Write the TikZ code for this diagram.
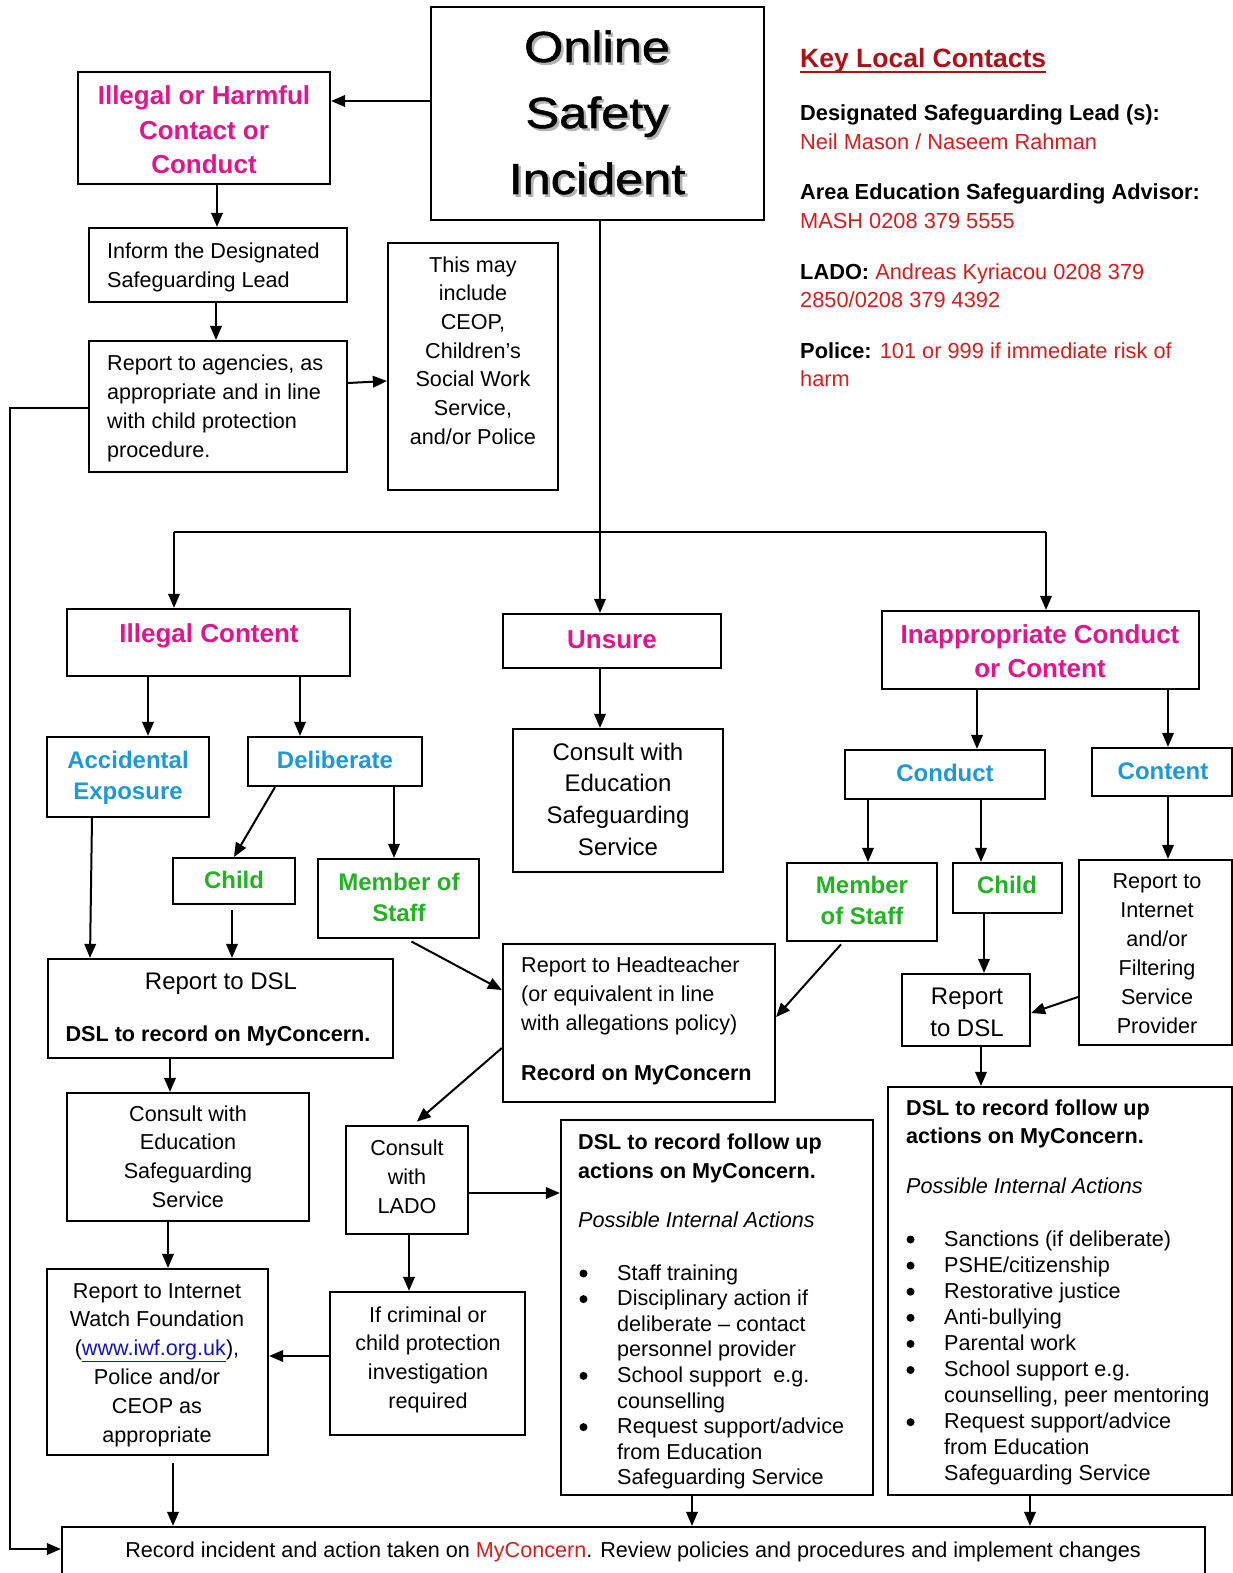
\documentclass[tikz,border=0pt]{standalone}
\usepackage{fontspec}
\setmainfont{Liberation Sans}
\newfontfamily\titlefont{Liberation Sans}[FakeStretch=1.16,FakeBold=1.2]
\usetikzlibrary{arrows.meta,fit}
\definecolor{pinkc}{RGB}{226,22,140}
\definecolor{bluec}{RGB}{30,152,218}
\definecolor{greenc}{RGB}{36,178,36}
\definecolor{redc}{RGB}{214,30,30}
\definecolor{headred}{RGB}{172,18,22}
\definecolor{linkc}{RGB}{20,20,190}
\newcommand\fs[2]{\fontsize{#1}{#2}\selectfont}
\newcommand\ML[2]{\begin{tabular}[t]{@{}#1@{}}#2\end{tabular}}
\newcommand\bul{\hspace*{39pt}}
\begin{document}
\begin{tikzpicture}[x=1pt,y=-1pt,
  bx/.style={draw, line width=2.2pt, inner sep=0pt},
  ar/.style={line width=2pt, -{Triangle[length=14pt,width=11.5pt]}},
  ln/.style={line width=2pt},
  dot/.style={fill=black},
  txc/.style={inner sep=0pt, anchor=base, font=\fs{21.6}{29}},
  txl/.style={inner sep=0pt, anchor=base west, font=\fs{21.6}{29}},
  hdp/.style={inner sep=0pt, anchor=base, font=\bfseries\fs{26}{34.5}, text=pinkc},
  subb/.style={inner sep=0pt, anchor=base, font=\bfseries\fs{24}{31.5}, text=bluec},
  subg/.style={inner sep=0pt, anchor=base, font=\bfseries\fs{24}{31}, text=greenc},
  kc/.style={inner sep=0pt, anchor=base west, font=\fs{21.8}{28.7}},
]
\fill[white] (0,0) rectangle (1233,1573);
\useasboundingbox (0,0) rectangle (1233,1573);

% ---------- boxes ----------
\node[bx, fit={(431,7) (764,220)}] (title) {};
\node[bx, fit={(78,72) (330,184)}] (ihc) {};
\node[bx, fit={(89,228) (347,302)}] (inform) {};
\node[bx, fit={(89,341) (347,472)}] (agen) {};
\node[bx, fit={(388,243) (558,490)}] (maybe) {};
\node[bx, fit={(67,609) (350,676)}] (illc) {};
\node[bx, fit={(503,614) (721,668)}] (unsure) {};
\node[bx, fit={(882,611) (1199,689)}] (inap) {};
\node[bx, fit={(47,737) (209,817)}] (acc) {};
\node[bx, fit={(248,737) (422,786)}] (delib) {};
\node[bx, fit={(173,858) (295,904)}] (childL) {};
\node[bx, fit={(318,859) (479,938)}] (mosL) {};
\node[bx, fit={(513,729) (723,872)}] (consM) {};
\node[bx, fit={(845,750) (1045,799)}] (cond) {};
\node[bx, fit={(1092,748) (1232,796)}] (cont) {};
\node[bx, fit={(787,863) (937,941)}] (mosR) {};
\node[bx, fit={(953,863) (1062,913)}] (childR) {};
\node[bx, fit={(1079,860) (1232,1045)}] (filt) {};
\node[bx, fit={(902,974) (1030,1046)}] (rdslR) {};
\node[bx, fit={(48,959) (393,1058)}] (rdslL) {};
\node[bx, fit={(503,944) (775,1102)}] (head) {};
\node[bx, fit={(67,1093) (309,1221)}] (consL) {};
\node[bx, fit={(47,1269) (268,1455)}] (iwf) {};
\node[bx, fit={(346,1126) (468,1234)}] (lado) {};
\node[bx, fit={(330,1292) (525,1435)}] (crim) {};
\node[bx, fit={(561,1120) (873,1495)}] (dslM) {};
\node[bx, fit={(888,1087) (1232,1495)}] (dslR) {};
\node[bx, fit={(62,1527) (1205,1620)}] (bottom) {};

% ---------- title ----------
\node[inner sep=0pt, anchor=base, font=\titlefont\fs{43.5}{66}, text=black!30] (titlesh) at (599.5,64.5) {\ML{c}{Online\\Safety\\Incident}};
\node[inner sep=0pt, anchor=base, font=\titlefont\fs{43.5}{66}] (titletx) at (597,62) {\ML{c}{Online\\Safety\\Incident}};

% ---------- texts ----------
\node[hdp] (ihct) at (204,105) {\ML{c}{Illegal or Harmful\\Contact or\\Conduct}};
\node[txl] (informt) at (107,258) {\ML{l}{Inform the Designated\\Safeguarding Lead}};
\node[txl] (agent) at (107,370) {\ML{l}{Report to agencies, as\\appropriate and in line\\with child protection\\procedure.}};
\node[txc, font=\fs{21.6}{28.7}] (maybet) at (473,272) {\ML{c}{This may\\include\\CEOP,\\Children’s\\Social Work\\Service,\\and/or Police}};

\node[inner sep=0pt, anchor=base west, font=\bfseries\fs{26.5}{30}, text=headred] (kh) at (800,68) {Key Local Contacts};
\draw[headred, line width=2pt] ([yshift=-4pt]kh.base west) -- ([yshift=-4pt]kh.base east);
\node[kc] (k1) at (800,121) {\ML{l}{\textbf{Designated Safeguarding Lead (s):}\\\textcolor{redc}{Neil Mason / Naseem Rahman}}};
\node[kc] (k2) at (800,200) {\ML{l}{\textbf{Area Education Safeguarding Advisor:}\\\textcolor{redc}{MASH 0208 379 5555}}};
\node[kc] (k3) at (800,279) {\ML{l}{\textbf{LADO:} \textcolor{redc}{Andreas Kyriacou 0208 379}\\\textcolor{redc}{2850/0208 379 4392}}};
\node[kc] (k4) at (800,358) {\ML{l}{\textbf{Police:} \textcolor{redc}{101 or 999 if immediate risk of}\\\textcolor{redc}{harm}}};

\node[hdp] (illct) at (209,642) {Illegal Content};
\node[hdp] (unsuret) at (612,648) {Unsure};
\node[hdp, font=\bfseries\fs{26}{34}] (inapt) at (1040,643) {\ML{c}{Inappropriate Conduct\\or Content}};

\node[subb] (acct) at (128,768) {\ML{c}{Accidental\\Exposure}};
\node[subb] (delibt) at (335,768) {Deliberate};
\node[subg] (childLt) at (234,888) {Child};
\node[subg] (mosLt) at (399,890) {\ML{c}{Member of\\Staff}};
\node[txc, font=\fs{24}{31.7}] (consMt) at (618,760) {\ML{c}{Consult with\\Education\\Safeguarding\\Service}};
\node[subb] (condt) at (945,781) {Conduct};
\node[subb] (contt) at (1163,779) {Content};
\node[subg] (mosRt) at (862,893) {\ML{c}{Member\\of Staff}};
\node[subg] (childRt) at (1007,893) {Child};
\node[txc, font=\fs{24}{32}] (rdslRt) at (967,1004) {\ML{c}{Report\\to DSL}};
\node[txc] (filtt) at (1157,888) {\ML{c}{Report to\\Internet\\and/or\\Filtering\\Service\\Provider}};

\node[txc, font=\fs{24}{30}] (rdslLa) at (221,989) {Report to DSL};
\node[txc, font=\bfseries\fs{21.6}{29}] (rdslLb) at (218,1041) {DSL to record on MyConcern.};
\node[txl] (headt) at (521,972) {\ML{l}{Report to Headteacher\\(or equivalent in line\\with allegations policy)}};
\node[txl, font=\bfseries\fs{21.6}{29}] (headb) at (521,1080) {Record on MyConcern};

\node[txc, font=\fs{21.6}{28.8}] (consLt) at (188,1121) {\ML{c}{Consult with\\Education\\Safeguarding\\Service}};
\node[txc, font=\fs{21.6}{28.8}] (iwft) at (157,1298) {\ML{c}{Report to Internet\\Watch Foundation\\(\textcolor{linkc}{\underline{www.iwf.org.uk}}),\\Police and/or\\CEOP as\\appropriate}};
\node[txc] (ladot) at (407,1155) {\ML{c}{Consult\\with\\LADO}};
\node[txc, font=\fs{21.6}{28.7}] (crimt) at (428,1322) {\ML{c}{If criminal or\\child protection\\investigation\\required}};

% middle follow-up box
\node[txl, font=\bfseries\fs{21.6}{29}] (dslMh) at (578,1149) {\ML{l}{DSL to record follow up\\actions on MyConcern.}};
\node[txl, font=\itshape\fs{21.6}{29}] (dslMi) at (578,1227) {Possible Internal Actions};
\begin{scope}
\clip (561,1120) rectangle (873,1488);
\node[txl, font=\fs{21.6}{25.6}] (dslMl) at (578,1280) {\ML{l@{}l}{\bul & Staff training\\
\bul & Disciplinary action if\\
 & deliberate – contact\\
 & personnel provider\\
\bul & School support\ \ e.g.\\
 & counselling\\
\bul & Request support/advice\\
 & from Education\\
 & Safeguarding Service}};
\end{scope}
\foreach \k in {0,1,4,6} \fill[dot] (583.5,1273.5+25.6*\k) circle (4pt);

% right follow-up box
\node[txl, font=\bfseries\fs{21.6}{28.5}] (dslRh) at (906,1115) {\ML{l}{DSL to record follow up\\actions on MyConcern.}};
\node[txl, font=\itshape\fs{21.6}{29}] (dslRi) at (906,1193) {Possible Internal Actions};
\node[txl, font=\fs{21.6}{26.1}] (dslRl) at (905,1246) {\ML{l@{}l}{\bul & Sanctions (if deliberate)\\
\bul & PSHE/citizenship\\
\bul & Restorative justice\\
\bul & Anti-bullying\\
\bul & Parental work\\
\bul & School support e.g.\\
 & counselling, peer mentoring\\
\bul & Request support/advice\\
 & from Education\\
 & Safeguarding Service}};
\foreach \k in {0,1,2,3,4,5,7} \fill[dot] (910.5,1239.5+26.1*\k) circle (4pt);

\node[txc] (bottomt) at (633,1557) {Record incident and action taken on \textcolor{redc}{MyConcern}. Review policies and procedures and implement changes};

% ---------- junction coordinates ----------
\coordinate (js) at (600,532);
\coordinate (jl) at (174,532);
\coordinate (jr) at (1046,532);
\coordinate (lc1) at (10,408);
\coordinate (lc2) at (10,1549);

% ---------- connectors ----------
\draw[ar] (title.west |- 0,101) -- (ihc.east |- 0,101);
\draw[ar] (217,0 |- ihc.south) -- (217,0 |- inform.north);
\draw[ar] (216,0 |- inform.south) -- (216,0 |- agen.north);
\draw[ar] (agen.east |- 0,383) -- (maybe.west |- 0,381);
\draw[ar] (agen.west |- 0,408) -- (lc1) -- (lc2) -- (bottom.west |- 0,1549);

\draw[ln] (600,0 |- title.south) -- (js);
\draw[ln] (jl) -- (jr);
\draw[ar] (jl) -- (174,0 |- illc.north);
\draw[ar] (js) -- (600,0 |- unsure.north);
\draw[ar] (jr) -- (1046,0 |- inap.north);

\draw[ar] (148,0 |- illc.south) -- (148,0 |- acc.north);
\draw[ar] (300,0 |- illc.south) -- (300,0 |- delib.north);
\draw[ar] (275,0 |- delib.south) -- (234,0 |- childL.north);
\draw[ar] (394,0 |- delib.south) -- (394,0 |- mosL.north);
\draw[ar] (92,0 |- acc.south) -- (90,0 |- rdslL.north);
\draw[ar, shorten <=5pt] (232,0 |- childL.south) -- (232,0 |- rdslL.north);
\draw[ar, shorten <=5pt] (407,0 |- mosL.south) -- (head.west |- 0,990);

\draw[ar] (600,0 |- unsure.south) -- (600,0 |- consM.north);

\draw[ar] (977,0 |- inap.south) -- (977,0 |- cond.north);
\draw[ar] (1168,0 |- inap.south) -- (1168,0 |- cont.north);
\draw[ar] (868,0 |- cond.south) -- (868,0 |- mosR.north);
\draw[ar] (981,0 |- cond.south) -- (981,0 |- childR.north);
\draw[ar] (1168,0 |- cont.south) -- (1168,0 |- filt.north);
\draw[ar] (984,0 |- childR.south) -- (984,0 |- rdslR.north);
\draw[ar] (filt.west |- 0,997) -- (rdslR.east |- 0,1013);
\draw[ar, shorten <=3pt] (843,0 |- mosR.south) -- (head.east |- 0,1017);
\draw[ar] (981,0 |- rdslR.south) -- (981,0 |- dslR.north);

\draw[ar] (170,0 |- rdslL.south) -- (170,0 |- consL.north);
\draw[ar] (168,0 |- consL.south) -- (168,0 |- iwf.north);
\draw[ar, shorten >=5pt] (head.west |- 0,1048) -- (413,0 |- lado.north);
\draw[ar] (lado.east |- 0,1193) -- (dslM.west |- 0,1193);
\draw[ar] (409,0 |- lado.south) -- (409,0 |- crim.north);
\draw[ar] (crim.west |- 0,1356) -- (iwf.east |- 0,1356);

\draw[ar, shorten <=7pt] (173,0 |- iwf.south) -- (173,0 |- bottom.north);
\draw[ar] (692,0 |- dslM.south) -- (692,0 |- bottom.north);
\draw[ar] (1030,0 |- dslR.south) -- (1030,0 |- bottom.north);
\end{tikzpicture}
\end{document}
